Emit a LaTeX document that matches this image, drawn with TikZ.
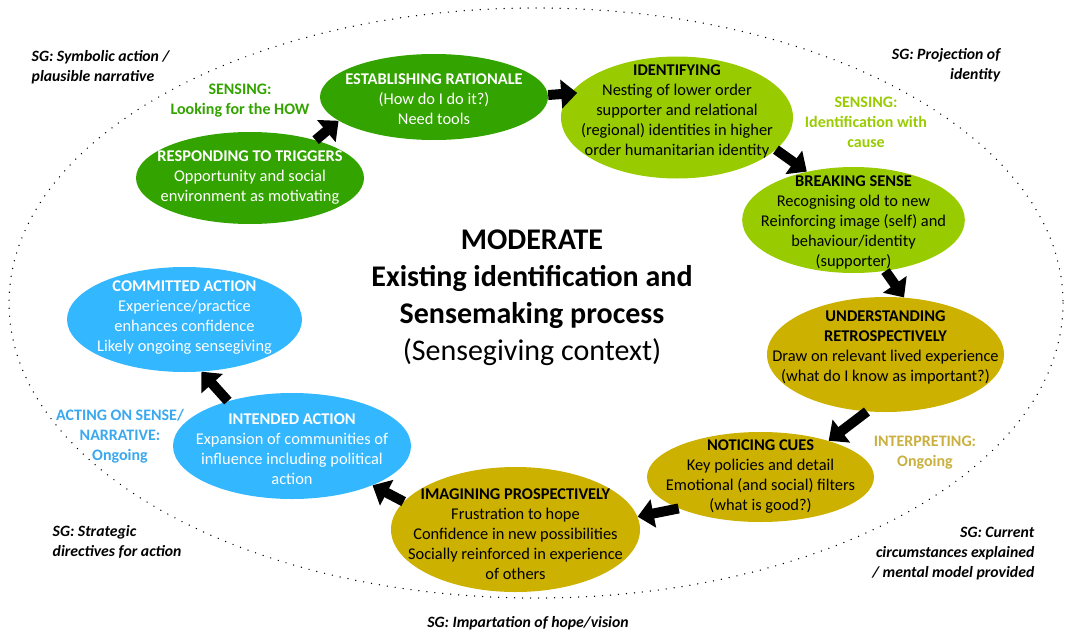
\documentclass[tikz,border=0pt]{standalone}
\usepackage{fontspec}
\setmainfont{Carlito}
\usetikzlibrary{shapes.geometric,arrows.meta}
\definecolor{triggergreen}{HTML}{33A300}
\definecolor{identgreen}{HTML}{99CC00}
\definecolor{interpgold}{HTML}{CCB100}
\definecolor{interplabel}{HTML}{C9B040}
\definecolor{actionblue}{HTML}{33B7FF}
\definecolor{actionlabel}{HTML}{3AA8EE}
\begin{document}
\begin{tikzpicture}[x=0.75pt,y=-0.75pt,
	blob/.style={ellipse, inner sep=0pt},
	blobtext/.style={align=center, font=\fontsize{12.3}{15}\selectfont},
	phase/.style={align=center, font=\fontsize{12}{15}\selectfont\bfseries},
	sg/.style={font=\fontsize{11.8}{15}\selectfont\bfseries\itshape},
	flow/.style={line width=7.5pt, -{Triangle[width=21pt,length=12pt]}}]
		\useasboundingbox (0,0) rectangle (1066,635);
		% outer dotted frame
		\draw[line width=1.1pt, line cap=round, dash pattern=on 0pt off 6pt] (536,303) ellipse [x radius=527, y radius=295];
		% sensing
		\node[blob, fill=triggergreen, minimum width=171pt, minimum height=69pt] (resp) at (250,178) {};
		\node[blobtext, text=white] (resptext) at (250,178) {\textbf{RESPONDING TO TRIGGERS}\\Opportunity and social\\environment as motivating};
		\node[blob, fill=triggergreen, minimum width=171pt, minimum height=64.5pt] (est) at (434,97) {};
		\node[blobtext, text=white] (esttext) at (434,99) {\textbf{ESTABLISHING RATIONALE}\\(How do I do it?)\\Need tools};
		\node[blob, fill=identgreen, minimum width=174pt, minimum height=91.5pt] (ident) at (677,117.5) {};
		\node[blobtext] (identtext) at (677,111) {\textbf{IDENTIFYING}\\Nesting of lower order\\supporter and relational\\(regional) identities in higher\\order humanitarian identity};
		\node[blob, fill=identgreen, minimum width=167pt, minimum height=79.5pt] (brk) at (853.5,220) {};
		\node[blobtext] (brktext) at (853.5,222) {\textbf{BREAKING SENSE}\\Recognising old to new\\Reinforcing image (self) and\\behaviour/identity\\(supporter)};
		% interpreting
		\node[blob, fill=interpgold, minimum width=177.75pt, minimum height=86.25pt] (und) at (885.5,354.5) {};
		\node[blobtext] (undtext) at (885.5,347) {\textbf{UNDERSTANDING}\\\textbf{RETROSPECTIVELY}\\Draw on relevant lived experience\\(what do I know as important?)};
		\node[blob, fill=interpgold, minimum width=170.25pt, minimum height=67.5pt] (noti) at (760.5,477) {};
		\node[blobtext] (notitext) at (760.5,477) {\textbf{NOTICING CUES}\\Key policies and detail\\Emotional (and social) filters\\(what is good?)};
		\node[blob, fill=interpgold, minimum width=186.75pt, minimum height=93.75pt] (imag) at (515.5,529.5) {};
		\node[blobtext] (imagtext) at (515.5,534) {\textbf{IMAGINING PROSPECTIVELY}\\Frustration to hope\\Confidence in new possibilities\\Socially reinforced in experience\\of others};
		% acting
		\node[blob, fill=actionblue, minimum width=178.5pt, minimum height=79.5pt] (inte) at (292,446) {};
		\node[blobtext, text=white] (intetext) at (292,449) {\textbf{INTENDED ACTION}\\Expansion of communities of\\influence including political\\action};
		\node[blob, fill=actionblue, minimum width=176.25pt, minimum height=78.75pt] (comm) at (184.5,319.5) {};
		\node[blobtext, text=white] (commtext) at (184.5,318) {\textbf{COMMITTED ACTION}\\Experience/practice\\enhances confidence\\Likely ongoing sensegiving};
		% flow arrows
		\draw[flow] (resp.30) -- (est.194);
		\draw[flow] (est.1) -- ([xshift=5pt]ident.167);
		\draw[flow] (ident.-18) -- (brk.134);
		\draw[flow] (brk.-58) -- (und.72);
		\draw[flow] (und.252) -- (noti.28);
		\draw[flow] (noti.201) -- (imag.6);
		\draw[flow] (imag.166) -- (inte.-26);
		\draw[flow] (inte.145) -- (comm.-72);
		% centre
		\node[align=center, font=\fontsize{22.5}{27.75}\selectfont] (centre) at (532,298) {\textbf{MODERATE}\\\textbf{Existing identification and}\\\textbf{Sensemaking process}\\(Sensegiving context)};
		% phase labels
		\node[phase, text=triggergreen] (senshow) at (240,101) {SENSING:\\Looking for the HOW};
		\node[phase, text=identgreen] (sensident) at (866,122) {SENSING:\\Identification with\\cause};
		\node[phase, text=interplabel] (interp) at (925,453) {INTERPRETING:\\Ongoing};
		\node[phase, text=actionlabel] (acting) at (120,436) {ACTING ON SENSE/\\NARRATIVE:\\Ongoing};
		% sensegiving labels
		\node[sg, align=left, anchor=west] (sgsymbolic) at (27,67) {SG: Symbolic action /\\plausible narrative};
		\node[sg, align=right, anchor=east] (sgprojection) at (1005,65) {SG: Projection of\\identity};
		\node[sg, align=right, anchor=east] (sgcurrent) at (1039,554) {SG: Current\\circumstances explained\\/ mental model provided};
		\node[sg, align=center] (sgimpart) at (528,623) {SG: Impartation of hope/vision};
		\node[sg, align=left, anchor=west] (sgstrategic) at (48,542) {SG: Strategic\\directives for action};
	\end{tikzpicture}
\end{document}
